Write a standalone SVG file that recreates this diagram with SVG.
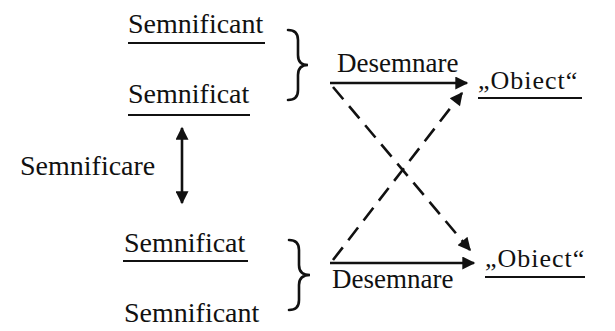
<svg xmlns="http://www.w3.org/2000/svg" width="615" height="331" viewBox="0 0 615 331">
<defs>
<style>
text{font-family:"Liberation Serif","Times New Roman",serif;fill:#111}
.t{font-size:28px}
.d{font-size:27px}
.o{font-size:26px;letter-spacing:1px}
.ul{stroke:#111;stroke-width:2.2}
.ln{stroke:#111;stroke-width:2.6;fill:none}
.ds{stroke:#111;stroke-width:2.6;fill:none;stroke-dasharray:16 9}
.br{stroke:#111;stroke-width:2.6;fill:none;stroke-linecap:round}
</style>
<marker id="ah" viewBox="0 0 10 10" refX="9" refY="5" markerWidth="6.5" markerHeight="5" orient="auto-start-reverse" markerUnits="strokeWidth">
<path d="M0,0 L10,5 L0,10 z" fill="#111"/>
</marker>
</defs>
<rect width="615" height="331" fill="#fff"/>
<g id="semnificant-top">
<text class="t" x="128" y="33">Semnificant</text>
<line class="ul" x1="128" y1="43" x2="265" y2="43"/>
</g>
<g id="semnificat-top">
<text class="t" x="128" y="103">Semnificat</text>
<line class="ul" x1="128" y1="115" x2="250" y2="115"/>
</g>
<g id="brace-top">
<path class="br" d="M288 30 Q298 30 298 40 L298 55 Q298 65 308 65 Q298 65 298 75 L298 90 Q298 100 288 100"/>
</g>
<g id="semnificare">
<text class="t" x="20" y="175">Semnificare</text>
</g>
<g id="semnificat-bottom">
<text class="t" x="124" y="252">Semnificat</text>
<line class="ul" x1="123" y1="261" x2="248" y2="261"/>
</g>
<g id="semnificant-bottom">
<text class="t" x="124" y="322">Semnificant</text>
</g>
<g id="brace-bottom">
<path class="br" d="M289 240 Q299 240 299 250 L299 265 Q299 275 310 275 Q299 275 299 285 L299 300 Q299 310 289 310"/>
</g>
<g id="desemnare-top">
<text class="d" x="337" y="72">Desemnare</text>
</g>
<g id="obiect-top">
<text class="o" x="478" y="89">„Obiect“</text>
<line class="ul" x1="478" y1="98" x2="582" y2="98"/>
</g>
<g id="desemnare-bottom">
<text class="d" x="332" y="288">Desemnare</text>
</g>
<g id="obiect-bottom">
<text class="o" x="485" y="267">„Obiect“</text>
<line class="ul" x1="485" y1="277" x2="585" y2="277"/>
</g>
<g id="connectors">
<line class="ln" x1="182" y1="128" x2="182" y2="203" marker-start="url(#ah)" marker-end="url(#ah)"/>
<line class="ln" x1="330" y1="83" x2="467" y2="83" marker-end="url(#ah)"/>
<line class="ln" x1="330" y1="263" x2="474" y2="263" marker-end="url(#ah)"/>
<line class="ds" x1="333" y1="87" x2="470" y2="250" marker-end="url(#ah)"/>
<line class="ds" x1="333" y1="260" x2="462" y2="93" marker-end="url(#ah)"/>
</g>
</svg>
